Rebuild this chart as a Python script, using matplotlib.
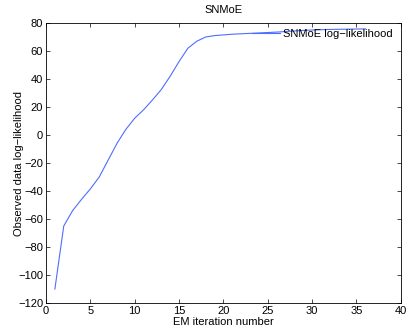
import matplotlib
matplotlib.use('Agg')
import matplotlib.pyplot as plt

# EM iterations and observed-data log-likelihood
iterations = list(range(1, 37))
loglik = [-110, -65, -54, -46, -38.5, -30, -18, -6, 4, 12,
          18, 25, 32.5, 42, 52.5, 62, 67, 70, 71, 71.5,
          72, 72.3, 72.6, 72.9, 73.2, 73.5, 73.9, 74.3, 74.7, 75.0,
          75.2, 75.4, 75.5, 75.6, 75.7, 75.8]

plt.rcParams['font.family'] = ['Liberation Sans', 'DejaVu Sans']
plt.rcParams['font.size'] = 8

fig = plt.figure(figsize=(4.09, 3.31), dpi=100)
ax = fig.add_axes([0.1125, 0.0846, 0.8675, 0.8459])

ax.plot(iterations, loglik, color='#4f6dff', linewidth=0.8, label='SNMoE log\u2212likelihood')

ax.set_xlim(0, 40)
ax.set_ylim(-120, 80)
ax.set_xticks(range(0, 41, 5))
ax.set_yticks(range(-120, 81, 20))
ax.tick_params(direction='in', length=3, width=0.5, top=True, right=True, pad=2)
for s in ax.spines.values():
    s.set_linewidth(0.6)

ax.set_xlabel('EM iteration number', labelpad=1)
ax.set_ylabel('Observed data log\u2212likelihood', labelpad=-4)
ax.set_title('SNMoE', fontsize=8, pad=7)

ax.legend(loc='upper right', frameon=False, handlelength=2.6, handletextpad=0.2,
          borderaxespad=0.3, bbox_to_anchor=(0.998, 1.005))

fig.savefig('out.png', dpi=100)
